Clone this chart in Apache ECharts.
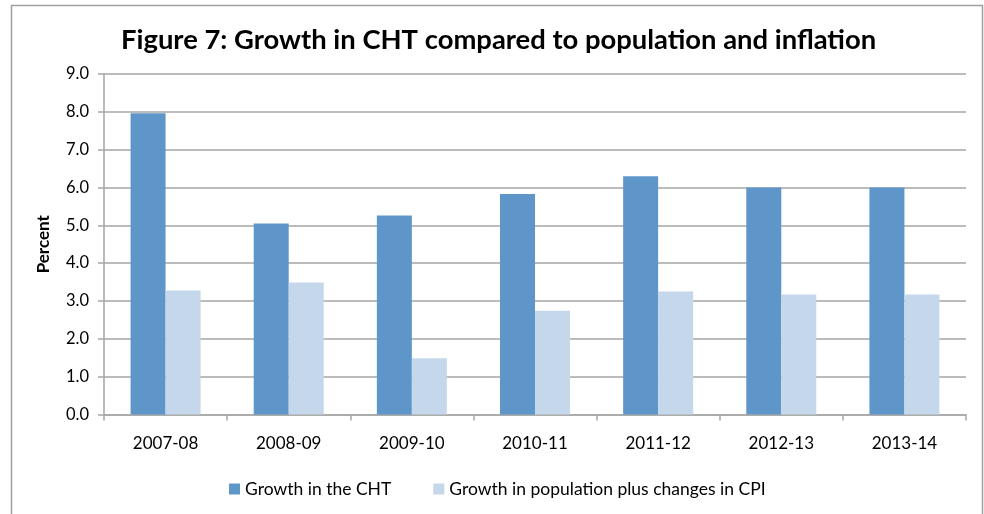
<!DOCTYPE html>
<html>
<head>
<meta charset="utf-8">
<script src="https://cdn.jsdelivr.net/npm/echarts@6/dist/echarts.min.js"></script>
<style>
  html, body { margin: 0; padding: 0; background: #fff; }
  #chart { width: 984px; height: 514px; }
</style>
</head>
<body>
<div id="chart"></div>
<script>
// Fiscal years on the category axis
const years = ['2007-08', '2008-09', '2009-10', '2010-11', '2011-12', '2012-13', '2013-14'];
// Annual growth in the Canada Health Transfer (%)
const chtGrowth = [7.96, 5.05, 5.26, 5.83, 6.30, 6.00, 6.00];
// Population growth plus CPI change (%)
const popCpiGrowth = [3.28, 3.49, 1.49, 2.74, 3.25, 3.17, 3.17];
// Value axis ticks
const yTicks = { min: 0, max: 9, interval: 1 };

const FONT = 'Lato';
const GRID = '#a6a6a6';

const chart = echarts.init(document.getElementById('chart'), null, { renderer: 'canvas' });
chart.setOption({
  animation: false,
  backgroundColor: '#fff',
  textStyle: { fontFamily: FONT },
  title: {
    text: 'Figure 7: Growth in CHT compared to population and inflation',
    left: 121,
    top: 27,
    padding: 0,
    textStyle: { fontFamily: FONT, fontWeight: 'bold', fontSize: 27.4, color: '#000' }
  },
  graphic: [{
    type: 'rect',
    shape: { x: 11.5, y: 5.5, width: 971, height: 530 },
    style: { fill: null, stroke: '#a0a0a0', lineWidth: 1.5 },
    silent: true
  }],
  legend: {
    bottom: 11,
    left: 224,
    itemWidth: 11,
    itemHeight: 11,
    itemGap: 42,
    icon: 'rect',
    textStyle: { fontFamily: FONT, fontSize: 17.5, color: '#000' },
    data: ['Growth in the CHT', 'Growth in population plus changes in CPI']
  },
  grid: { left: 104, right: 18, top: 74, bottom: 99.5, containLabel: false },
  xAxis: {
    type: 'category',
    data: years,
    axisLine: { lineStyle: { color: GRID, width: 1.5 } },
    axisTick: { show: true, length: 6, lineStyle: { color: GRID, width: 1.5 } },
    axisLabel: { color: '#000', fontFamily: FONT, fontSize: 17, margin: 21 }
  },
  yAxis: {
    type: 'value',
    min: yTicks.min,
    max: yTicks.max,
    interval: yTicks.interval,
    name: 'Percent',
    nameLocation: 'middle',
    nameGap: 52,
    nameTextStyle: { fontFamily: FONT, fontWeight: 'bold', fontSize: 17, color: '#000' },
    axisLine: { show: true, lineStyle: { color: GRID, width: 1.5 } },
    axisTick: { show: true, length: 6, lineStyle: { color: GRID, width: 1.5 } },
    splitLine: { lineStyle: { color: GRID, width: 1.5 } },
    axisLabel: {
      color: '#000', fontFamily: FONT, fontSize: 16.5, margin: 15,
      formatter: v => v.toFixed(1)
    }
  },
  series: [
    {
      name: 'Growth in the CHT',
      type: 'bar',
      data: chtGrowth,
      barWidth: 35,
      barGap: '0%',
      itemStyle: { color: '#5f96c9' }
    },
    {
      name: 'Growth in population plus changes in CPI',
      type: 'bar',
      data: popCpiGrowth,
      barWidth: 35,
      barGap: '0%',
      itemStyle: { color: '#c5d7eb' }
    }
  ]
});
</script>
</body>
</html>
